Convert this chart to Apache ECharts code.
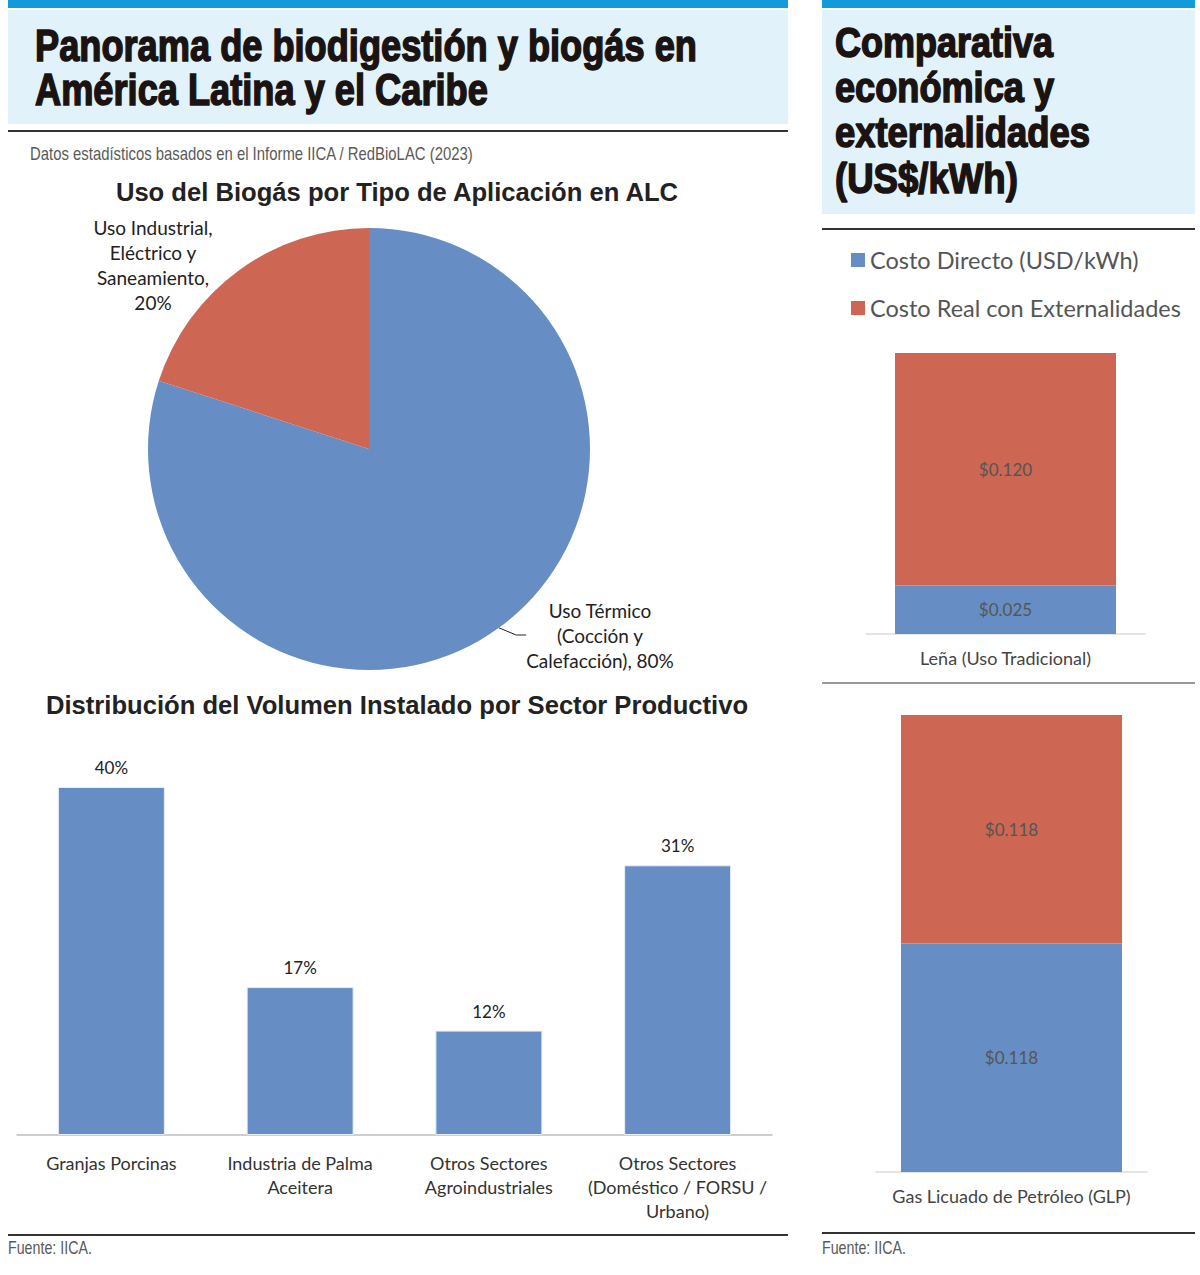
<!DOCTYPE html>
<html><head><meta charset="utf-8">
<script src="https://cdn.jsdelivr.net/npm/echarts@6/dist/echarts.min.js"></script>
<style>html,body{margin:0;padding:0;background:#fff}#c{width:1200px;height:1275px}</style>
</head><body><div id="c"></div>
<script>
// ---- data ----
const pieCategories = ['Uso Térmico\n(Cocción y\nCalefacción)', 'Uso Industrial,\nEléctrico y\nSaneamiento'];
const pieValues = [80, 20];
const sectorCategories = ['Granjas Porcinas', 'Industria de Palma\nAceitera', 'Otros Sectores\nAgroindustriales', 'Otros Sectores\n(Doméstico / FORSU /\nUrbano)'];
const sectorValues = [40, 17, 12, 31];
const costCategories = ['Leña (Uso Tradicional)', 'Gas Licuado de Petróleo (GLP)'];
const directCost = [0.025, 0.118];
const realCost = [0.120, 0.118];
const seriesNames = ['Costo Directo (USD/kWh)', 'Costo Real con Externalidades'];

const BLUE = '#668ec4', RED = '#cd6652';
const ARIAL = "'Liberation Sans', Arial, sans-serif";
const BODY = "Lato, 'Open Sans', sans-serif";

const chart = echarts.init(document.getElementById('c'), null, {renderer: 'svg'});

const mctx = document.createElement('canvas').getContext('2d');
function fitScale(text, weight, size, target) {
  mctx.font = weight + ' ' + size + 'px ' + ARIAL;
  return target / mctx.measureText(text).width;
}
// condensed text drawn by horizontally compressing Liberation Sans
function narrowText(x, y, t, size, weight, target, fill, stroke) {
  const s = fitScale(t, weight, size, target);
  return {type: 'text', x: x, y: y, scaleX: s, scaleY: 1,
    style: {text: t, fontFamily: ARIAL, fontWeight: weight, fontSize: size, fill: fill,
      stroke: stroke ? fill : null, lineWidth: stroke || 0, align: 'left', verticalAlign: 'middle'}};
}
const HEAD = '#1a1311';
const graphics = [
  {type: 'rect', shape: {x: 8, y: 0, width: 780, height: 8}, style: {fill: '#139ad8'}},
  {type: 'rect', shape: {x: 822, y: 0, width: 373, height: 8}, style: {fill: '#139ad8'}},
  {type: 'rect', shape: {x: 8, y: 10, width: 780, height: 114}, style: {fill: '#e1f2fb'}},
  {type: 'rect', shape: {x: 822, y: 10, width: 373, height: 204}, style: {fill: '#e1f2fb'}},
  {type: 'line', shape: {x1: 8, y1: 131, x2: 788, y2: 131}, style: {stroke: '#333', lineWidth: 2}},
  {type: 'line', shape: {x1: 822, y1: 229, x2: 1195, y2: 229}, style: {stroke: '#333', lineWidth: 2}},
  {type: 'line', shape: {x1: 822, y1: 683, x2: 1195, y2: 683}, style: {stroke: '#777', lineWidth: 1.5}},
  {type: 'line', shape: {x1: 8, y1: 1235, x2: 788, y2: 1235}, style: {stroke: '#333', lineWidth: 2}},
  {type: 'line', shape: {x1: 822, y1: 1233, x2: 1195, y2: 1233}, style: {stroke: '#333', lineWidth: 2}},
  narrowText(35, 46, 'Panorama de biodigestión y biogás en', 45, 'bold', 662, HEAD, 1.6),
  narrowText(35, 90, 'América Latina y el Caribe', 45, 'bold', 453, HEAD, 1.6),
  narrowText(835, 42, 'Comparativa', 43, 'bold', 218, HEAD, 1.6),
  narrowText(835, 87, 'económica y', 43, 'bold', 219, HEAD, 1.6),
  narrowText(835, 132, 'externalidades', 43, 'bold', 255, HEAD, 1.6),
  narrowText(835, 178, '(US$/kWh)', 43, 'bold', 183, HEAD, 1.6),
  narrowText(30, 154, 'Datos estadísticos basados en el Informe IICA / RedBioLAC (2023)', 19, 'normal', 444, '#5a5a5a', 0),
  narrowText(8, 1248, 'Fuente: IICA.', 19, 'normal', 84, '#5a5a5a', 0),
  narrowText(822, 1248, 'Fuente: IICA.', 19, 'normal', 84, '#5a5a5a', 0),
  {type: 'text', x: 397, y: 192, style: {text: 'Uso del Biogás por Tipo de Aplicación en ALC', fontFamily: ARIAL, fontWeight: 'bold', fontSize: 25.6, fill: '#222', align: 'center', verticalAlign: 'middle'}},
  {type: 'text', x: 397, y: 705, style: {text: 'Distribución del Volumen Instalado por Sector Productivo', fontFamily: ARIAL, fontWeight: 'bold', fontSize: 25.6, fill: '#222', align: 'center', verticalAlign: 'middle'}}
];

const costLabel = {show: true, position: 'inside', fontFamily: BODY, fontSize: 17, color: '#555',
  formatter: p => '$' + p.value.toFixed(3)};

const option = {
  animation: false,
  textStyle: {fontFamily: BODY},
  graphic: graphics,
  legend: {
    data: seriesNames, orient: 'vertical', left: 846, top: 243, itemWidth: 14, itemHeight: 14, itemGap: 24,
    icon: 'rect', selectedMode: false, textStyle: {fontSize: 23.5, color: '#555', fontFamily: BODY}
  },
  grid: [
    {left: 17, width: 755, top: 787, height: 348},
    {left: 866, width: 279, top: 353, height: 281},
    {left: 876, width: 271, top: 715, height: 457}
  ],
  xAxis: [
    {type: 'category', gridIndex: 0, data: sectorCategories, axisTick: {show: false},
      axisLine: {lineStyle: {color: '#bfbfbf', width: 1.5}},
      axisLabel: {interval: 0, fontSize: 18, lineHeight: 24, color: '#333', margin: 16}},
    {type: 'category', gridIndex: 1, data: [costCategories[0]], axisTick: {show: false},
      axisLine: {lineStyle: {color: '#dcdcdc', width: 1.5}},
      axisLabel: {fontSize: 18, color: '#444', margin: 15}},
    {type: 'category', gridIndex: 2, data: [costCategories[1]], axisTick: {show: false},
      axisLine: {lineStyle: {color: '#dcdcdc', width: 1.5}},
      axisLabel: {fontSize: 18, color: '#444', margin: 15}}
  ],
  yAxis: [
    {type: 'value', gridIndex: 0, min: 0, max: 40, show: false},
    {type: 'value', gridIndex: 1, min: 0, max: 0.145, show: false},
    {type: 'value', gridIndex: 2, min: 0, max: 0.236, show: false}
  ],
  series: [
    {type: 'pie', center: [369, 449], radius: 221, startAngle: 90, clockwise: true,
      emphasis: {disabled: true}, silent: true,
      data: pieCategories.map((n, i) => ({name: n, value: pieValues[i],
        itemStyle: {color: i === 0 ? BLUE : RED},
        labelLine: {show: i === 0}})),
      label: {show: true, position: 'outside', fontSize: 19, lineHeight: 25, color: '#222', align: 'center',
        formatter: p => p.name + ',' + (p.dataIndex === 1 ? '\n' : ' ') + p.value + '%'},
      labelLine: {length: 10, length2: 10, lineStyle: {color: '#222', width: 1}},
      labelLayout: function (params) {
        if (params.dataIndex === 0) return {x: 600, y: 635, align: 'center', verticalAlign: 'middle'};
        return {x: 153, y: 265, align: 'center', verticalAlign: 'middle'};
      }
    },
    {type: 'bar', xAxisIndex: 0, yAxisIndex: 0, data: sectorValues, barWidth: 107,
      itemStyle: {color: BLUE, borderColor: '#e8eef6', borderWidth: 1}, silent: true,
      label: {show: true, position: 'top', distance: 11, fontSize: 17, color: '#222', formatter: '{c}%'}},
    {type: 'bar', name: seriesNames[0], xAxisIndex: 1, yAxisIndex: 1, stack: 's1', barWidth: 221,
      data: [directCost[0]], itemStyle: {color: BLUE}, label: costLabel, silent: true},
    {type: 'bar', name: seriesNames[1], xAxisIndex: 1, yAxisIndex: 1, stack: 's1', barWidth: 221,
      data: [realCost[0]], itemStyle: {color: RED}, label: costLabel, silent: true},
    {type: 'bar', name: seriesNames[0], xAxisIndex: 2, yAxisIndex: 2, stack: 's2', barWidth: 221,
      data: [directCost[1]], itemStyle: {color: BLUE}, label: costLabel, silent: true},
    {type: 'bar', name: seriesNames[1], xAxisIndex: 2, yAxisIndex: 2, stack: 's2', barWidth: 221,
      data: [realCost[1]], itemStyle: {color: RED}, label: costLabel, silent: true}
  ]
};
chart.setOption(option);
</script></body></html>
